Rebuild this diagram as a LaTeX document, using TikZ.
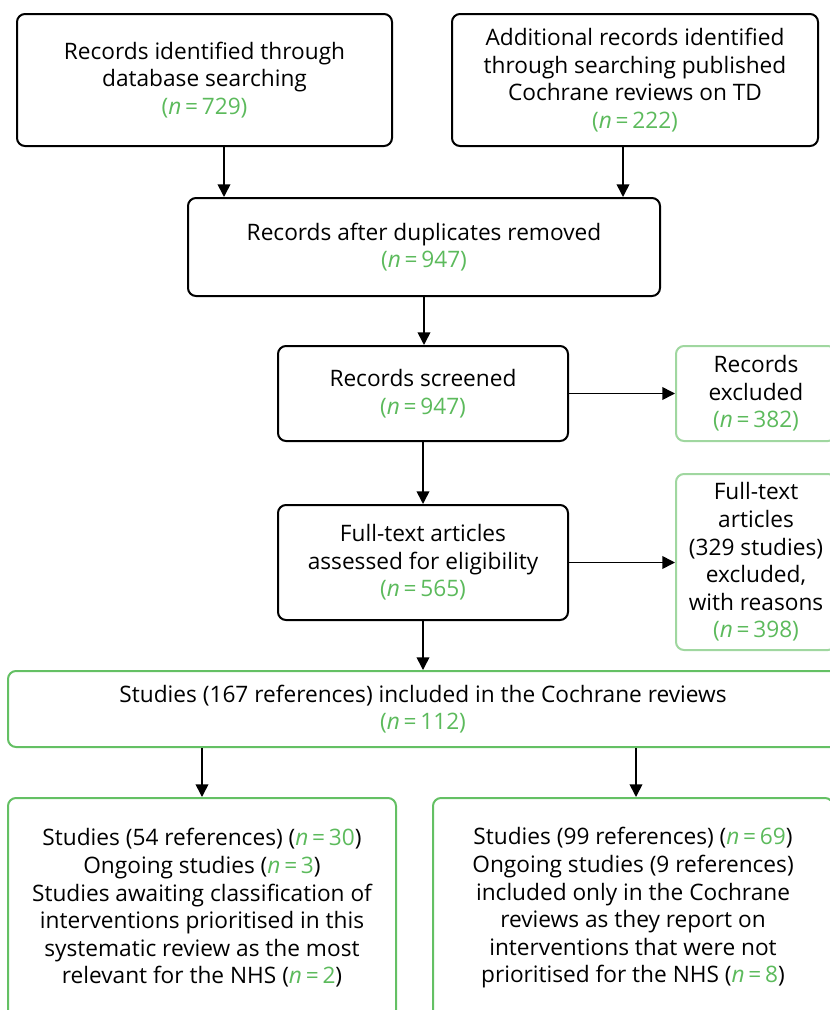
\documentclass[tikz,border=0pt]{standalone}
\usepackage{fontspec}
\setmainfont{Open Sans}
\usetikzlibrary{arrows.meta}
\definecolor{ngreen}{RGB}{92,186,92}
\definecolor{lgreen}{RGB}{160,215,160}
\definecolor{bgreen}{RGB}{100,192,100}
\newcommand{\nfull}[1]{\textcolor{ngreen}{(\textit{n}\,=\,#1)}}
\newcommand{\ninner}[1]{(\textcolor{ngreen}{\textit{n}\,=\,#1})}
\begin{document}
\begin{tikzpicture}[x=0.75pt,y=-0.75pt,
  box/.style={draw=black,line width=1.5pt,rounded corners=6pt,align=center,inner sep=0pt,font=\fontsize{17}{20.7}\selectfont},
  lbox/.style={box,draw=lgreen},
  gbox/.style={box,draw=bgreen},
  arr/.style={line width=1.2pt,-{Triangle[length=9.5pt,width=9.5pt]}}]
\useasboundingbox (0,0) rectangle (830,1010);
\clip (0,0) rectangle (830,1010);
\node[box,minimum width=375*0.75pt,minimum height=132*0.75pt] (b1) at (204.5,80) {Records identified through\\database searching\\\nfull{729}};
\node[box,minimum width=366*0.75pt,minimum height=132*0.75pt] (b2) at (635,80) {Additional records identified\\through searching published\\Cochrane reviews on TD\\\nfull{222}};
\node[box,minimum width=472*0.75pt,minimum height=98*0.75pt] (b3) at (424,247) {Records after duplicates removed\\\nfull{947}};
\node[box,minimum width=290*0.75pt,minimum height=95*0.75pt] (b4) at (423,393.5) {Records screened\\\nfull{947}};
\node[lbox,minimum width=160*0.75pt,minimum height=95*0.75pt] (b5) at (756,393.5) {Records\\excluded\\\nfull{382}};
\node[box,minimum width=290*0.75pt,minimum height=115*0.75pt] (b6) at (423,562.5) {Full-text articles\\assessed for eligibility\\\nfull{565}};
\node[lbox,minimum width=160*0.75pt,minimum height=176*0.75pt] (b7) at (756,562) {Full-text\\articles\\(329 studies)\\excluded,\\with reasons\\\nfull{398}};
\node[gbox,minimum width=830*0.75pt,minimum height=76*0.75pt] (b8) at (423,709) {Studies (167 references) included in the Cochrane reviews\\\nfull{112}};
\node[gbox,minimum width=388*0.75pt,minimum height=220*0.75pt] (b9) at (202,908) {Studies (54 references) \ninner{30}\\Ongoing studies \ninner{3}\\Studies awaiting classification of\\interventions prioritised in this\\systematic review as the most\\relevant for the NHS \ninner{2}};
\node[gbox,minimum width=400*0.75pt,minimum height=220*0.75pt] (b10) at (633,908) {Studies (99 references) \ninner{69}\\Ongoing studies (9 references)\\included only in the Cochrane\\reviews as they report on\\interventions that were not\\prioritised for the NHS \ninner{8}};
\draw[arr] ([xshift=19.5*0.75pt]b1.south) -- ([xshift=19.5*0.75pt]b1.south |- b3.north);
\draw[arr] ([xshift=-12*0.75pt]b2.south) -- ([xshift=-12*0.75pt]b2.south |- b3.north);
\draw[arr] (b3.south) -- (b3.south |- b4.north);
\draw[arr] (b4.east) -- (b4.east -| b5.west);
\draw[arr] (b4.south) -- (b4.south |- b6.north);
\draw[arr] (b6.east) -- (b6.east -| b7.west);
\draw[arr] (b6.south) -- (b6.south |- b8.north);
\draw[arr] (b9.north |- b8.south) -- (b9.north);
\draw[arr] ([xshift=3*0.75pt]b10.north |- b8.south) -- ([xshift=3*0.75pt]b10.north);
\end{tikzpicture}
\end{document}
